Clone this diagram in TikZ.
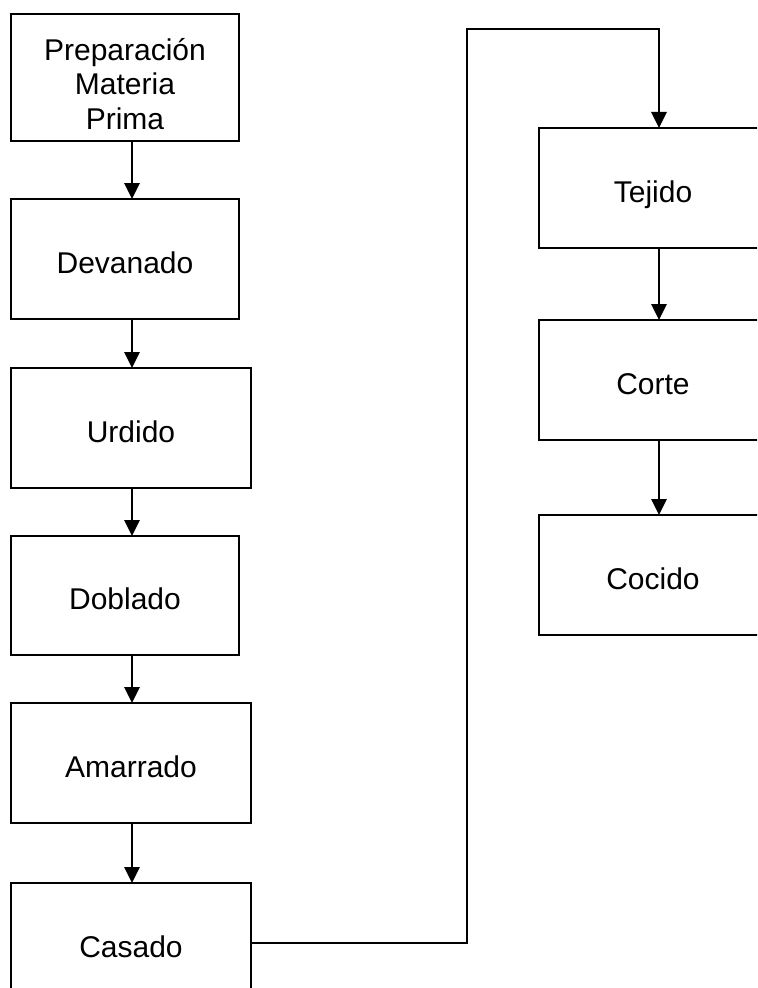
\documentclass[tikz,border=0pt]{standalone}
\usepackage{fontspec}
\setmainfont{Liberation Sans}
\usetikzlibrary{arrows.meta}
\begin{document}
\begin{tikzpicture}[x=0.75pt,y=-0.75pt,
  stepbox/.style={draw=black,line width=1.5pt,fill=white,inner sep=0pt,outer sep=0pt,
    minimum width=171pt,minimum height=90pt,align=center,
    font=\fontsize{22.5}{25.9}\selectfont,text height=21.5pt,text depth=0pt},
  widebox/.style={stepbox,minimum width=180pt},
  arr/.style={line width=1.5pt,-{Triangle[length=12pt,width=11.5pt]}},
  link/.style={line width=1.5pt}]
\useasboundingbox (0,0) rectangle (757,988);
\clip (0,0) rectangle (757,988);
\fill[white] (0,0) rectangle (757,988);
\coordinate (ax) at (132,0);
\coordinate (rx) at (659,0);
\node[stepbox,minimum height=95.25pt,text height=,text depth=] (prep) at (125,77.5) {\rule{0pt}{26pt}Preparación\\Materia\\Prima};
\node[stepbox] (dev) at (125,259) {Devanado};
\node[widebox] (urd) at (131,428) {Urdido};
\node[stepbox,minimum height=89.25pt] (dob) at (125,595.5) {Doblado};
\node[widebox] (ama) at (131,763) {Amarrado};
\node[widebox] (cas) at (131,943) {Casado};
\node[stepbox] (tej) at (653,188) {Tejido};
\node[stepbox] (cor) at (653,380) {Corte};
\node[stepbox] (coc) at (653,575) {Cocido};
\coordinate (up) at (467,28.7);
\draw[arr] (prep.south -| ax) -- (dev.north -| ax);
\draw[arr] (dev.south -| ax) -- (urd.north -| ax);
\draw[arr] (urd.south -| ax) -- (dob.north -| ax);
\draw[arr] (dob.south -| ax) -- (ama.north -| ax);
\draw[arr] (ama.south -| ax) -- (cas.north -| ax);
\draw[arr,line join=miter] (cas.east) -| (up) -| (tej.north -| rx);
\draw[arr] (tej.south -| rx) -- (cor.north -| rx);
\draw[arr] (cor.south -| rx) -- (coc.north -| rx);
\end{tikzpicture}
\end{document}
